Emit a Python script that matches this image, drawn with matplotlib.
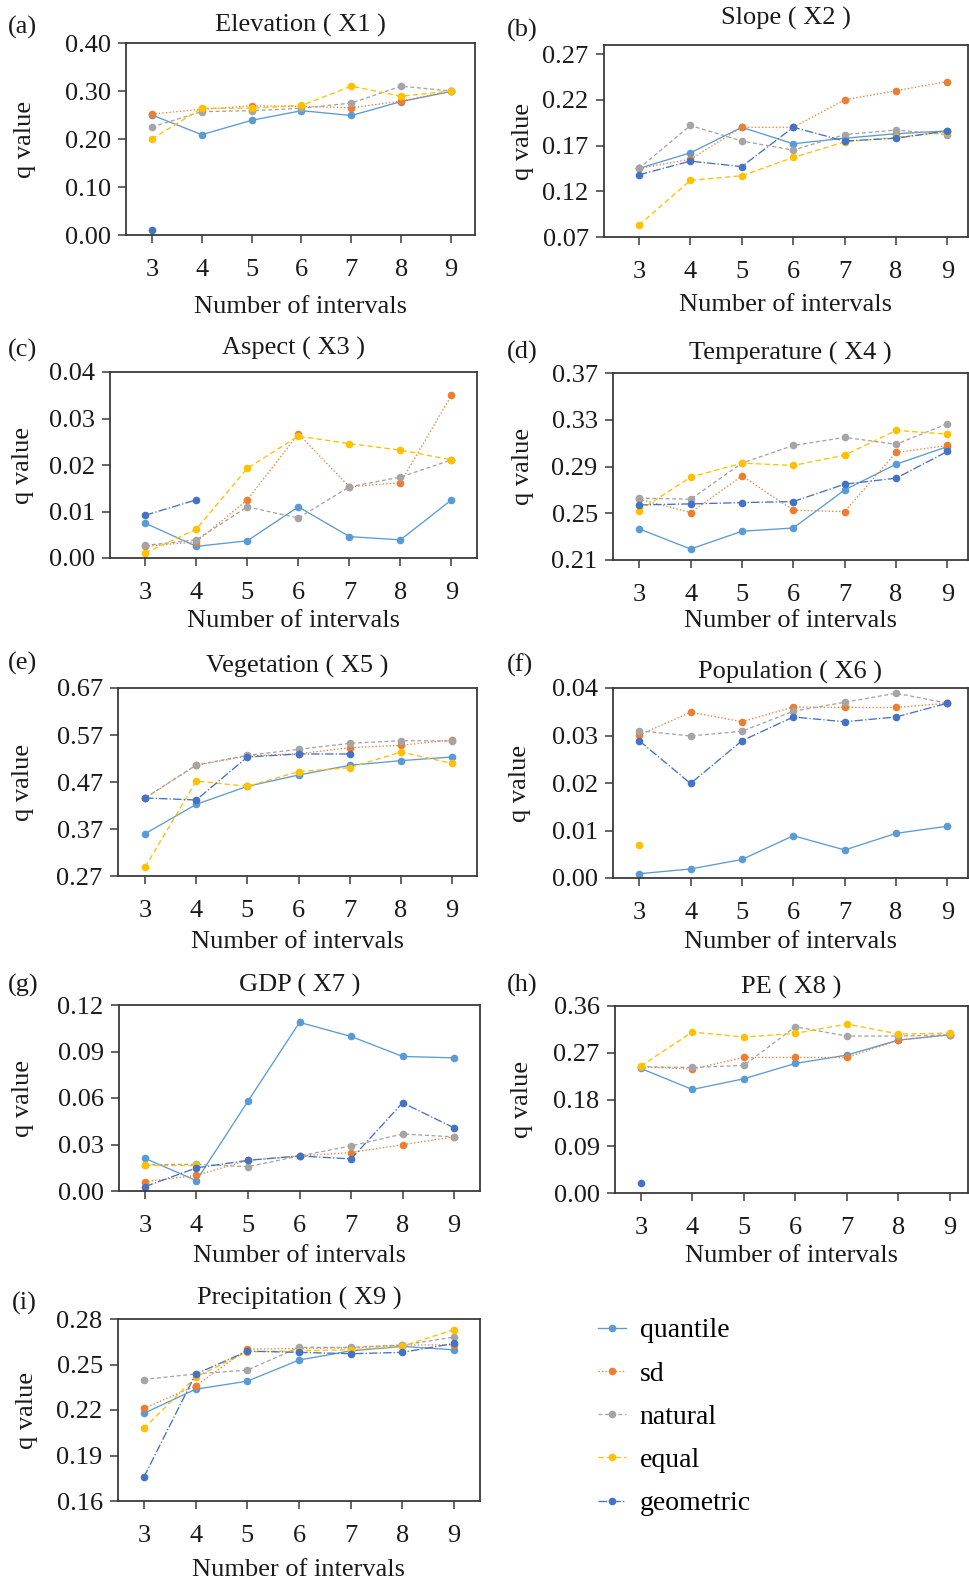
import numpy as np
import matplotlib
matplotlib.use("Agg")
import matplotlib.pyplot as plt

nan = np.nan
intervals = [3, 4, 5, 6, 7, 8, 9]
methods = ["quantile", "sd", "natural", "equal", "geometric"]

titles = ["Elevation ( X1 )", "Slope ( X2 )", "Aspect ( X3 )", "Temperature ( X4 )",
          "Vegetation ( X5 )", "Population ( X6 )", "GDP ( X7 )", "PE ( X8 )",
          "Precipitation ( X9 )"]
panel_labels = ["(a)", "(b)", "(c)", "(d)", "(e)", "(f)", "(g)", "(h)", "(i)"]

# q values per panel: quantile, sd, natural, equal, geometric
x1_quantile = [0.250, 0.209, 0.239, 0.259, 0.249, 0.278, 0.299]
x1_sd = [0.252, 0.262, 0.269, 0.268, 0.265, 0.279, 0.300]
x1_natural = [0.225, 0.257, 0.259, 0.264, 0.275, 0.310, 0.300]
x1_equal = [0.200, 0.264, 0.264, 0.270, 0.310, 0.289, 0.300]
x1_geometric = [0.010, nan, nan, nan, nan, nan, nan]

x2_quantile = [0.145, 0.162, 0.190, 0.172, 0.178, 0.183, 0.186]
x2_sd = [0.145, 0.155, 0.190, 0.190, 0.220, 0.230, 0.240]
x2_natural = [0.145, 0.192, 0.175, 0.165, 0.182, 0.187, 0.182]
x2_equal = [0.083, 0.132, 0.137, 0.157, 0.174, 0.179, 0.185]
x2_geometric = [0.138, 0.153, 0.147, 0.190, 0.175, 0.178, 0.186]

x3_quantile = [0.0075, 0.0025, 0.0037, 0.0110, 0.0046, 0.0039, 0.0125]
x3_sd = [0.0025, 0.0035, 0.0125, 0.0267, 0.0153, 0.0162, 0.0350]
x3_natural = [0.0027, 0.0039, 0.0110, 0.0086, 0.0153, 0.0174, 0.0211]
x3_equal = [0.0011, 0.0062, 0.0193, 0.0262, 0.0246, 0.0232, 0.0211]
x3_geometric = [0.0092, 0.0125, nan, nan, nan, nan, nan]

x4_quantile = [0.2366, 0.2194, 0.2346, 0.2374, 0.2700, 0.2920, 0.3070]
x4_sd = [0.2620, 0.2506, 0.2820, 0.2526, 0.2514, 0.3020, 0.3080]
x4_natural = [0.2629, 0.2620, 0.2929, 0.3080, 0.3149, 0.3090, 0.3266]
x4_equal = [0.2523, 0.2809, 0.2929, 0.2909, 0.2997, 0.3209, 0.3177]
x4_geometric = [0.2571, 0.2580, 0.2591, 0.2600, 0.2749, 0.2800, 0.3029]

x5_quantile = [0.360, 0.4225, 0.4608, 0.4849, 0.5055, 0.5154, 0.5232]
x5_sd = [0.436, 0.5055, 0.5253, 0.5300, 0.5430, 0.5480, 0.5600]
x5_natural = [0.436, 0.5062, 0.5267, 0.5395, 0.5523, 0.5580, 0.5570]
x5_equal = [0.289, 0.4720, 0.4608, 0.4920, 0.5005, 0.5338, 0.5097]
x5_geometric = [0.436, 0.4317, 0.5232, 0.5296, 0.5296, nan, nan]

x6_quantile = [0.0009, 0.0019, 0.0039, 0.0089, 0.0059, 0.0094, 0.0109]
x6_sd = [0.0301, 0.0349, 0.0329, 0.0360, 0.0359, 0.0359, 0.0368]
x6_natural = [0.0310, 0.0299, 0.0309, 0.0351, 0.0370, 0.0389, 0.0368]
x6_equal = [0.0069, nan, nan, nan, nan, nan, nan]
x6_geometric = [0.0289, 0.0199, 0.0289, 0.0339, 0.0329, 0.0339, 0.0368]

x7_quantile = [0.0211, 0.0067, 0.0579, 0.1088, 0.0997, 0.0868, 0.0859]
x7_sd = [0.0060, 0.0101, 0.0198, 0.0226, 0.0248, 0.0299, 0.0349]
x7_natural = [0.0170, 0.0172, 0.0157, 0.0226, 0.0291, 0.0368, 0.0349]
x7_equal = [0.0168, 0.0168, nan, nan, nan, nan, nan]
x7_geometric = [0.0028, 0.0149, 0.0198, 0.0226, 0.0207, 0.0569, 0.0407]

x8_quantile = [0.2398, 0.1993, 0.2199, 0.2494, 0.2655, 0.2944, 0.3047]
x8_sd = [0.2430, 0.2385, 0.2610, 0.2610, 0.2610, 0.2944, 0.3047]
x8_natural = [0.2430, 0.2417, 0.2456, 0.3201, 0.3021, 0.3021, 0.3047]
x8_equal = [0.2443, 0.3099, 0.3002, 0.3073, 0.3253, 0.3060, 0.3079]
x8_geometric = [0.0193, nan, nan, nan, nan, nan, nan]

x9_quantile = [0.2178, 0.2337, 0.2390, 0.2529, 0.2590, 0.2619, 0.2597]
x9_sd = [0.2211, 0.2359, 0.2601, 0.2606, 0.2610, 0.2628, 0.2630]
x9_natural = [0.2401, 0.2438, 0.2463, 0.2613, 0.2613, 0.2628, 0.2681]
x9_equal = [0.2079, 0.2416, 0.2584, 0.2590, 0.2597, 0.2621, 0.2730]
x9_geometric = [0.1757, 0.2436, 0.2588, 0.2580, 0.2571, 0.2580, 0.2639]

panel_data = [
    [x1_quantile, x1_sd, x1_natural, x1_equal, x1_geometric],
    [x2_quantile, x2_sd, x2_natural, x2_equal, x2_geometric],
    [x3_quantile, x3_sd, x3_natural, x3_equal, x3_geometric],
    [x4_quantile, x4_sd, x4_natural, x4_equal, x4_geometric],
    [x5_quantile, x5_sd, x5_natural, x5_equal, x5_geometric],
    [x6_quantile, x6_sd, x6_natural, x6_equal, x6_geometric],
    [x7_quantile, x7_sd, x7_natural, x7_equal, x7_geometric],
    [x8_quantile, x8_sd, x8_natural, x8_equal, x8_geometric],
    [x9_quantile, x9_sd, x9_natural, x9_equal, x9_geometric],
]

y_ticks = [
    [0.00, 0.10, 0.20, 0.30, 0.40],
    [0.07, 0.12, 0.17, 0.22, 0.27],
    [0.00, 0.01, 0.02, 0.03, 0.04],
    [0.21, 0.25, 0.29, 0.33, 0.37],
    [0.27, 0.37, 0.47, 0.57, 0.67],
    [0.00, 0.01, 0.02, 0.03, 0.04],
    [0.00, 0.03, 0.06, 0.09, 0.12],
    [0.00, 0.09, 0.18, 0.27, 0.36],
    [0.16, 0.19, 0.22, 0.25, 0.28],
]
y_limits = [(0, 0.40), (0.07, 0.28), (0, 0.04), (0.21, 0.37), (0.27, 0.67),
            (0, 0.04), (0, 0.12), (0, 0.36), (0.16, 0.28)]
x_limits = [(2.48, 9.48), (2.32, 9.4), (2.31, 9.5), (2.49, 9.4), (2.47, 9.49),
            (2.49, 9.4), (2.5, 9.5), (2.5, 9.35), (2.5, 9.5)]

# layout (pixel boxes: left, right, top, bottom) in a 970x1585 figure
W, H = 970, 1585
boxes = [(126, 475, 43, 235), (604, 968, 45, 237),
         (110, 477, 372, 558), (613, 968, 373, 560),
         (118, 477, 688, 876), (613, 968, 688, 878),
         (119, 480, 1005, 1191), (615, 968, 1006, 1193),
         (118, 480, 1319, 1501)]
title_y = [25, 18, 348, 353, 666, 672, 985, 987, 1298]
label_xy = [(8, 27), (507, 30), (8, 350), (507, 352), (8, 663), (507, 665),
            (8, 985), (507, 985), (12, 1303)]
xlabel_y = [307, 305, 621, 621, 942, 942, 1256, 1256, 1570]
ylabel_x = [25, 523, 23, 523, 23, 520, 23, 522, 27]

colors = ["#5B9BD5", "#ED7D31", "#A5A5A5", "#FFC000", "#4472C4"]
styles = ["-", ":", (0, (3, 2)), (0, (4, 2.5)), "-."]

plt.rcParams["font.family"] = ["Liberation Serif", "DejaVu Serif"]
FS = 19
spine_c = "#3a3a3a"

fig = plt.figure(figsize=(W / 100, H / 100), dpi=100)
handles = None
for i in range(9):
    l, r, t, b = boxes[i]
    ax = fig.add_axes([l / W, 1 - b / H, (r - l) / W, (b - t) / H])
    hs = []
    for j in range(5):
        h, = ax.plot(intervals, panel_data[i][j], linestyle=styles[j], color=colors[j],
                     linewidth=0.95, marker="o", markersize=5.5, markeredgewidth=0,
                     label=methods[j])
        hs.append(h)
    if handles is None:
        handles = hs
    ax.set_xlim(*x_limits[i])
    ax.set_ylim(*y_limits[i])
    ax.set_xticks(intervals)
    ax.set_yticks(y_ticks[i])
    ax.set_yticklabels(["%.2f" % v for v in y_ticks[i]])
    ax.tick_params(axis="both", direction="out", length=6, width=1.1, colors=spine_c,
                   labelcolor="#1a1a1a", labelsize=FS)
    ax.tick_params(axis="x", pad=11)
    ax.tick_params(axis="y", pad=5)
    for s in ax.spines.values():
        s.set_color(spine_c)
        s.set_linewidth(1.3)
    ax.set_ylabel("q value", fontsize=FS, color="#1a1a1a")
    ax.yaxis.set_label_coords((ylabel_x[i] - l) / (r - l), 0.5)
    ax.set_xlabel("Number of intervals", fontsize=FS, color="#1a1a1a")
    ax.xaxis.set_label_coords(0.5, -(xlabel_y[i] - b) / (b - t))
    ax.xaxis.label.set_va("center")
    ax.yaxis.label.set_va("center")
    fig.text((l + r) / 2 / W, 1 - title_y[i] / H, titles[i], ha="center", va="center",
             fontsize=FS, color="#1a1a1a")
    lx, ly = label_xy[i]
    fig.text(lx / W, 1 - ly / H, panel_labels[i], ha="left", va="center",
             fontsize=FS, color="#1a1a1a")

fig.legend(handles, methods, loc="upper left", bbox_to_anchor=(598 / W, 1 - 1318 / H),
           frameon=False, fontsize=20, handlelength=1.0, handletextpad=0.5,
           labelspacing=0.64, borderaxespad=0, borderpad=0)

fig.savefig("out.png", dpi=100)
